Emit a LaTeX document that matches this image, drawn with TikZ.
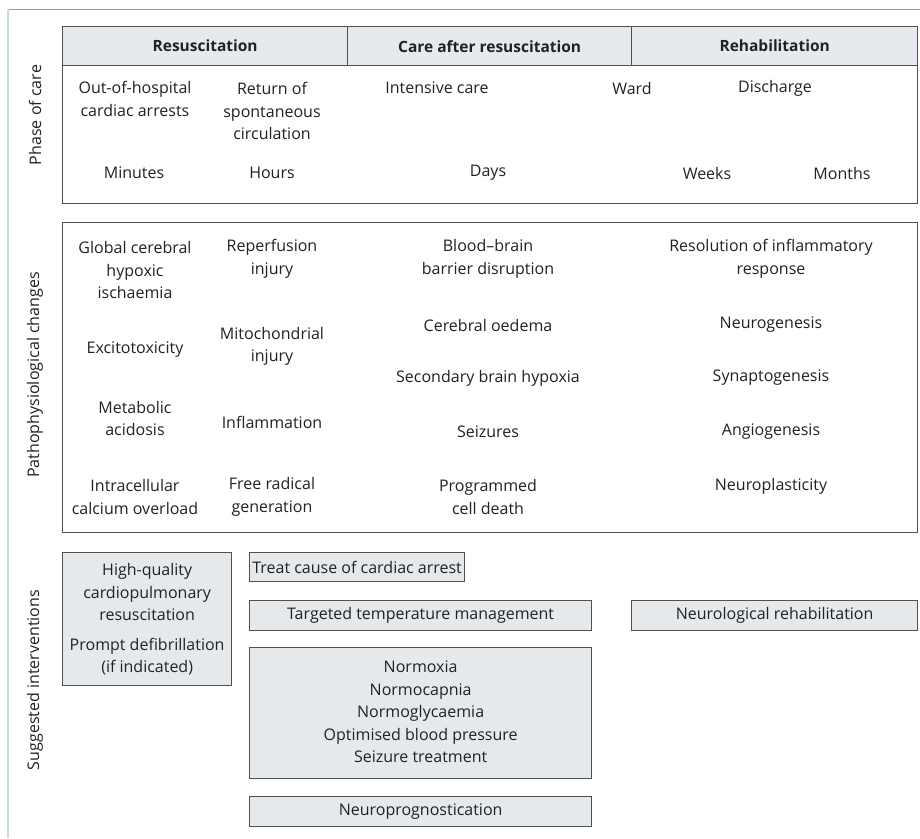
\documentclass[tikz,border=0pt]{standalone}
\usepackage{fontspec}
\setmainfont{Open Sans}
\definecolor{hdrfill}{HTML}{E6EAEE}
\definecolor{boxfill}{HTML}{E5E9EC}
\definecolor{edge}{HTML}{505050}
\definecolor{txt}{HTML}{222222}
\definecolor{frameteal}{HTML}{C4DED8}
\definecolor{framegrey}{HTML}{9A9A9A}
\tikzset{
  cell/.style={draw=edge, line width=1.3pt, fill=hdrfill, anchor=north west, inner sep=0pt},
  plainbox/.style={draw=edge, line width=1.3pt, anchor=north west, inner sep=0pt},
  ibox/.style={draw=edge, line width=1.3pt, fill=boxfill, anchor=north west, inner sep=0pt},
  lab/.style={text=txt, align=center, inner sep=0pt, font=\fontsize{16}{22.5}\selectfont},
  hdr/.style={text=txt, align=center, inner sep=0pt, font=\fontsize{15.5}{22.5}\selectfont\bfseries},
  side/.style={text=txt, rotate=90, inner sep=0pt, font=\fontsize{16}{22.5}\selectfont},
}
\begin{document}
\begin{tikzpicture}[x=1pt,y=-1pt]
\useasboundingbox (0,0) rectangle (920,838);
\fill[white] (0,0) rectangle (920,838);
% outer frame lines
\coordinate (ftl) at (8,9);
\coordinate (ftr) at (920,9);
\coordinate (fbl) at (8,838);
\draw[framegrey, line width=1pt] (ftl) -- (ftr);
\draw[frameteal, line width=1.5pt] (ftl) -- (fbl);

% ---------- Phase of care ----------
\node[plainbox, minimum width=855pt, minimum height=177pt] (pbody) at (62,26) {};
\node[cell, minimum width=285pt, minimum height=39pt] (h1) at (62,26) {};
\node[cell, minimum width=284pt, minimum height=39pt] (h2) at (347,26) {};
\node[cell, minimum width=286pt, minimum height=39pt] (h3) at (631,26) {};
\node[hdr] (h1t) at (h1.center) {Resuscitation};
\node[hdr] (h2t) at (h2.center) {Care after resuscitation};
\node[hdr] (h3t) at (h3.center) {Rehabilitation};

\node[side] (s1) at (35,115) {Phase of care};
\node[lab] (p1) at (135,99) {Out-of-hospital\\cardiac arrests};
\node[lab] (p2) at (272,111) {Return of\\spontaneous\\circulation};
\node[lab] (p3) at (437,88) {Intensive care};
\node[lab] (p4) at (632,88) {Ward};
\node[lab] (p5) at (775,88) {Discharge};
\node[lab] (t1) at (134,173) {Minutes};
\node[lab] (t2) at (272,173) {Hours};
\node[lab] (t3) at (488,173) {Days};
\node[lab] (t4) at (707,173) {Weeks};
\node[lab] (t5) at (842,173) {Months};

% ---------- Pathophysiological changes ----------
\node[plainbox, minimum width=855pt, minimum height=310pt] (pp) at (62,222) {};
\node[side] (s2) at (35,375) {Pathophysiological changes};
\node[lab] (a1) at (135,270) {Global cerebral\\hypoxic\\ischaemia};
\node[lab] (a2) at (135,350) {Excitotoxicity};
\node[lab] (a3) at (135,418.5) {Metabolic\\acidosis};
\node[lab] (a4) at (135,497) {Intracellular\\calcium overload};
\node[lab] (b1) at (272,259) {Reperfusion\\injury};
\node[lab] (b2) at (272,346.5) {Mitochondrial\\injury};
\node[lab] (b3) at (272,422) {Inflammation};
\node[lab] (b4) at (272,497) {Free radical\\generation};
\node[lab] (c1) at (488,259) {Blood–brain\\barrier disruption};
\node[lab] (c2) at (488,325) {Cerebral oedema};
\node[lab] (c3) at (488,378) {Secondary brain hypoxia};
\node[lab] (c4) at (488,432) {Seizures};
\node[lab] (c5) at (488,497) {Programmed\\cell death};
\node[lab] (d1) at (771,259) {Resolution of inflammatory\\response};
\node[lab] (d2) at (771,325) {Neurogenesis};
\node[lab] (d3) at (771,378) {Synaptogenesis};
\node[lab] (d4) at (771,432) {Angiogenesis};
\node[lab] (d5) at (771,486) {Neuroplasticity};

% ---------- Suggested interventions ----------
\node[side] (s3) at (35,680) {Suggested interventions};
\node[ibox, minimum width=169pt, minimum height=133pt] (i1) at (62,552) {};
\node[lab] (i1a) at ([yshift=27pt]i1.center) {High-quality\\cardiopulmonary\\resuscitation};
\node[lab] (i1b) at ([yshift=-37.5pt]i1.center) {Prompt defibrillation\\(if indicated)};
\node[ibox, minimum width=215pt, minimum height=29pt] (i2) at (249,552) {};
\node[lab] (i2t) at (i2.center) {Treat cause of cardiac arrest};
\node[ibox, minimum width=342pt, minimum height=30pt] (i3) at (249,600) {};
\node[lab] (i3t) at (i3.center) {Targeted temperature management};
\node[ibox, minimum width=286pt, minimum height=30pt] (i4) at (631,600) {};
\node[lab] (i4t) at (i4.center) {Neurological rehabilitation};
\node[ibox, minimum width=342pt, minimum height=131pt] (i5) at (249,647) {};
\node[lab] (i5t) at ([yshift=1pt]i5.center) {Normoxia\\Normocapnia\\Normoglycaemia\\Optimised blood pressure\\Seizure treatment};
\node[ibox, minimum width=342pt, minimum height=30pt] (i6) at (249,796) {};
\node[lab] (i6t) at (i6.center) {Neuroprognostication};
\end{tikzpicture}
\end{document}
